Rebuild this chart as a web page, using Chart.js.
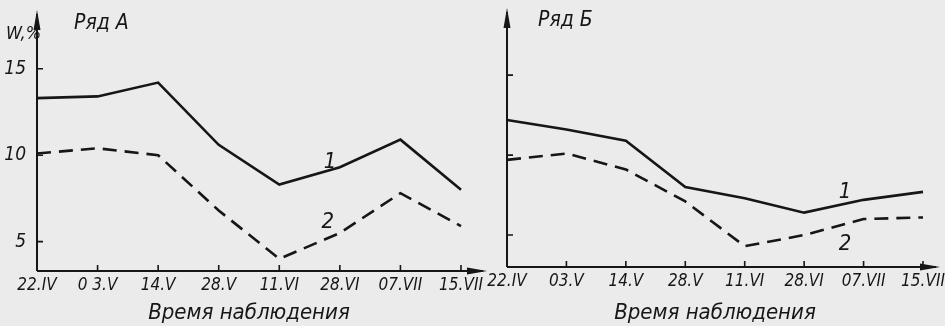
<!DOCTYPE html>
<html lang="ru">
<head>
<meta charset="UTF-8">
<title>Влажность почвы, ряды А и Б</title>
<script src="https://cdn.jsdelivr.net/npm/chart.js"></script>
<style>
  body { margin: 0; background: #ebebeb; }
  #wrap { position: relative; width: 945px; height: 326px; overflow: hidden; }
  canvas { position: absolute; top: 0; }
  #chartA { left: 0; }
  #chartB { left: 470px; }
</style>
</head>
<body>
<div id="wrap">
  <canvas id="chartA" width="495" height="326"></canvas>
  <canvas id="chartB" width="475" height="326"></canvas>
</div>

<script>
// dates of observation
const datesA = ['22.IV', '0 3.V', '14.V', '28.V', '11.VI', '28.VI', '07.VII', '15.VII'];
const datesB = ['22.IV', '03.V', '14.V', '28.V', '11.VI', '28.VI', '07.VII', '15.VII'];

// W, % - curve 1 (solid) and curve 2 (dashed)
const rowA1 = [13.3, 13.4, 14.2, 10.6, 8.3, 9.3, 10.9, 8.0];
const rowA2 = [10.1, 10.4, 10.0, 6.8, 4.0, 5.5, 7.8, 5.9];
const rowB1 = [12.2, 11.6, 10.9, 8.0, 7.3, 6.4, 7.2, 7.7];
const rowB2 = [9.7, 10.1, 9.1, 7.1, 4.3, 5.0, 6.0, 6.1];

const yTicks = [5, 10, 15];

const INK = '#161616';
const FONT = '"Liberation Sans Narrow", "DejaVu Sans Condensed", "Liberation Sans", sans-serif';

// axes with arrows, inner tick marks and the hand-placed captions
const sketchAxes = {
  id: 'sketchAxes',
  afterDraw(chart, args, opts) {
    const c = chart.ctx;
    const x = chart.scales.x, y = chart.scales.y;
    const x0 = chart.chartArea.left, y0 = chart.chartArea.bottom;
    const top = chart.chartArea.top;
    const tipX = opts.arrowX;
    c.save();
    c.strokeStyle = INK;
    c.fillStyle = INK;
    c.lineWidth = 2;
    c.beginPath();
    c.moveTo(x0, y0); c.lineTo(x0, top + 4);
    c.moveTo(x0, y0); c.lineTo(tipX - 4, y0);
    c.stroke();
    // arrow heads
    c.beginPath();
    c.moveTo(x0, top); c.lineTo(x0 - 3.5, top + 20); c.lineTo(x0 + 3.5, top + 20); c.closePath();
    c.fill();
    c.beginPath();
    c.moveTo(tipX, y0); c.lineTo(tipX - 20, y0 - 3.5); c.lineTo(tipX - 20, y0 + 3.5); c.closePath();
    c.fill();
    // tick marks
    c.lineWidth = 1.6;
    c.beginPath();
    yTicks.forEach(v => {
      const py = y.getPixelForValue(v);
      c.moveTo(x0, py); c.lineTo(x0 + 6, py);
    });
    for (let i = 1; i < x.getLabels().length; i++) {
      const px = x.getPixelForValue(i);
      c.moveTo(px, y0); c.lineTo(px, y0 - 6);
    }
    c.stroke();
    // captions
    c.textBaseline = 'top';
    c.textAlign = 'left';
    c.font = 'italic 21px ' + FONT;
    c.fillText(opts.title, opts.titleX, opts.titleY);
    if (opts.unit) {
      c.font = 'italic 18px ' + FONT;
      c.fillText(opts.unit, 6, 25);
    }
    c.textAlign = 'center';
    c.textBaseline = 'middle';
    c.font = 'italic 22px ' + FONT;
    opts.marks.forEach(m => {
      c.fillText(m.text, x.getPixelForValue(m.at), y.getPixelForValue(m.value));
    });
    c.restore();
  }
};

function makePanel(id, labels, row1, row2, cfg) {
  return new Chart(document.getElementById(id), {
    type: 'line',
    data: {
      labels: labels,
      datasets: [
        { data: row1, borderColor: INK, borderWidth: 2.6, pointRadius: 0, tension: 0 },
        { data: row2, borderColor: INK, borderWidth: 2.6, borderDash: [14, 8], pointRadius: 0, tension: 0 }
      ]
    },
    options: {
      responsive: false,
      animation: false,
      events: [],
      layout: { padding: { left: 0, right: cfg.padRight, top: cfg.padTop, bottom: 0 } },
      plugins: {
        legend: { display: false },
        tooltip: { enabled: false },
        sketchAxes: cfg.sketch
      },
      scales: {
        x: {
          type: 'category',
          offset: false,
          grid: { display: false, drawTicks: false },
          border: { display: false },
          ticks: {
            color: INK, autoSkip: false, maxRotation: 0, padding: 4,
            font: { family: FONT, size: 17, style: 'italic' }
          },
          title: {
            display: true, text: 'Время наблюдения', color: INK,
            padding: { top: 4, bottom: 0 },
            font: { family: FONT, size: 22, style: 'italic' }
          },
          afterFit: s => { s.height = cfg.xHeight; s.paddingLeft = 0; s.paddingRight = 0; }
        },
        y: {
          min: cfg.yMin,
          max: cfg.yMax,
          grid: { display: false, drawTicks: false },
          border: { display: false },
          afterBuildTicks: s => { s.ticks = yTicks.map(v => ({ value: v })); },
          ticks: {
            display: cfg.showYLabels, color: INK, padding: 11,
            font: { family: FONT, size: 19, style: 'italic' }
          },
          afterFit: s => { s.width = cfg.yWidth; s.paddingTop = 0; s.paddingBottom = 0; }
        }
      }
    },
    plugins: [sketchAxes]
  });
}

makePanel('chartA', datesA, rowA1, rowA2, {
  padRight: 34, padTop: 10, xHeight: 55, yWidth: 37, yMin: 3.3, yMax: 18.4, showYLabels: true,
  sketch: {
    arrowX: 487, title: 'Ряд А', titleX: 74, titleY: 13, unit: 'W,%',
    marks: [{ text: '1', at: 4.84, value: 9.6 }, { text: '2', at: 4.8, value: 6.1 }]
  }
});

makePanel('chartB', datesB, rowB1, rowB2, {
  padRight: 22, padTop: 8, xHeight: 59, yWidth: 37, yMin: 3.0, yMax: 19.2, showYLabels: false,
  sketch: {
    arrowX: 470, title: 'Ряд Б', titleX: 68, titleY: 10, unit: null,
    marks: [{ text: '1', at: 5.69, value: 7.7 }, { text: '2', at: 5.69, value: 4.4 }]
  }
});
</script>
</body>
</html>
